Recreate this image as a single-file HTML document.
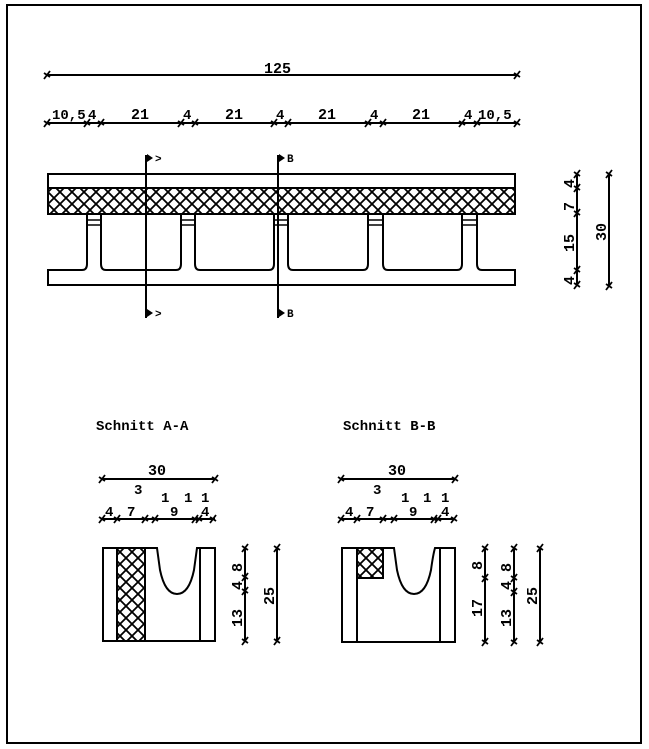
<!DOCTYPE html>
<html><head><meta charset="utf-8"><style>
html,body{margin:0;padding:0;background:#fff;}
svg{display:block;}
text{font-family:"Liberation Mono","DejaVu Sans Mono",monospace;font-weight:bold;fill:#000;}
</style></head><body>
<svg width="649" height="749" viewBox="0 0 649 749" xmlns="http://www.w3.org/2000/svg">
<defs>
<pattern id="h" width="12" height="12" patternUnits="userSpaceOnUse">
<path d="M0 0L12 12M12 0L0 12" stroke="#000" stroke-width="1.8"/>
</pattern>
<g id="t"><path d="M-3 4L3 -4M-3 -2L3 2" stroke="#000" stroke-width="1.8"/></g>
</defs>
<rect x="7" y="5" width="634" height="738" fill="none" stroke="#000" stroke-width="2"/>
<g stroke="#000" stroke-width="2" fill="none">
<line x1="47" y1="75" x2="517" y2="75"/>
<line x1="47" y1="123" x2="517" y2="123"/>
<rect x="48" y="174" width="467" height="40"/>
<rect x="49" y="188" width="465" height="25" fill="url(#h)" stroke="none"/>
<line x1="48" y1="188" x2="515" y2="188"/>
<path d="M48 270H82Q87 270 87 264V214L101 214V264Q101 270 106 270H176Q181 270 181 264V214L195 214V264Q195 270 200 270H269Q274 270 274 264V214L288 214V264Q288 270 293 270H363Q368 270 368 264V214L383 214V264Q383 270 388 270H457Q462 270 462 264V214L477 214V264Q477 270 482 270H515V285H48Z"/>
<g stroke-width="1.5">
<line x1="87" y1="220" x2="101" y2="220"/><line x1="87" y1="225" x2="101" y2="225"/>
<line x1="181" y1="220" x2="195" y2="220"/><line x1="181" y1="225" x2="195" y2="225"/>
<line x1="274" y1="220" x2="288" y2="220"/><line x1="274" y1="225" x2="288" y2="225"/>
<line x1="368" y1="220" x2="383" y2="220"/><line x1="368" y1="225" x2="383" y2="225"/>
<line x1="462" y1="220" x2="477" y2="220"/><line x1="462" y1="225" x2="477" y2="225"/>
</g>
<line x1="146" y1="155" x2="146" y2="318"/>
<line x1="278" y1="155" x2="278" y2="318"/>
<line x1="577" y1="173" x2="577" y2="286"/>
<line x1="609" y1="173" x2="609" y2="287"/>
<line x1="102" y1="479" x2="215" y2="479"/>
<line x1="102" y1="519" x2="215" y2="519"/>
<rect x="117" y="548" width="28" height="93" fill="url(#h)" stroke="none"/>
<path d="M103 548H157Q158 555 160 570Q165 594 177 594Q189 594 194 570Q196 555 197 548H215V641H103Z"/>
<line x1="117" y1="548" x2="117" y2="641"/><line x1="145" y1="548" x2="145" y2="641"/>
<line x1="200" y1="548" x2="200" y2="641"/>
<line x1="245" y1="548" x2="245" y2="641"/>
<line x1="277" y1="548" x2="277" y2="641"/>
<line x1="341" y1="479" x2="455" y2="479"/>
<line x1="341" y1="519" x2="455" y2="519"/>
<rect x="358" y="548" width="25" height="30" fill="url(#h)" stroke="none"/>
<path d="M358 578H383V548"/>
<path d="M342 548H394Q395 555 397 570Q402 594 414 594Q426 594 431 570Q433 555 435 548H455V642H342Z"/>
<line x1="357" y1="548" x2="357" y2="642"/>
<line x1="440" y1="548" x2="440" y2="642"/>
<line x1="485" y1="548" x2="485" y2="642"/>
<line x1="514" y1="548" x2="514" y2="642"/>
<line x1="540" y1="548" x2="540" y2="642"/>
</g>
<g>
<use href="#t" x="47" y="75"/><use href="#t" x="517" y="75"/>
<use href="#t" x="47" y="123"/><use href="#t" x="87" y="123"/><use href="#t" x="101" y="123"/>
<use href="#t" x="181" y="123"/><use href="#t" x="195" y="123"/><use href="#t" x="274" y="123"/>
<use href="#t" x="288" y="123"/><use href="#t" x="368" y="123"/><use href="#t" x="383" y="123"/>
<use href="#t" x="462" y="123"/><use href="#t" x="477" y="123"/><use href="#t" x="517" y="123"/>
<use href="#t" x="577" y="174"/><use href="#t" x="577" y="188"/><use href="#t" x="577" y="213"/>
<use href="#t" x="577" y="270"/><use href="#t" x="577" y="285"/>
<use href="#t" x="609" y="174"/><use href="#t" x="609" y="286"/>
<use href="#t" x="102" y="479"/><use href="#t" x="215" y="479"/>
<use href="#t" x="102" y="519"/><use href="#t" x="117" y="519"/><use href="#t" x="145" y="519"/>
<use href="#t" x="155" y="519"/><use href="#t" x="195" y="519"/><use href="#t" x="199" y="519"/>
<use href="#t" x="213" y="519"/>
<use href="#t" x="245" y="548"/><use href="#t" x="245" y="577"/><use href="#t" x="245" y="591"/><use href="#t" x="245" y="641"/>
<use href="#t" x="277" y="548"/><use href="#t" x="277" y="641"/>
<use href="#t" x="341" y="479"/><use href="#t" x="455" y="479"/>
<use href="#t" x="341" y="519"/><use href="#t" x="357" y="519"/><use href="#t" x="383" y="519"/>
<use href="#t" x="394" y="519"/><use href="#t" x="434" y="519"/><use href="#t" x="438" y="519"/>
<use href="#t" x="454" y="519"/>
<use href="#t" x="485" y="548"/><use href="#t" x="485" y="578"/><use href="#t" x="485" y="642"/>
<use href="#t" x="514" y="548"/><use href="#t" x="514" y="578"/><use href="#t" x="514" y="592"/><use href="#t" x="514" y="642"/>
<use href="#t" x="540" y="548"/><use href="#t" x="540" y="642"/>
</g>
<g fill="#000">
<path d="M147 154L153 158L147 162Z"/><path d="M147 309L153 313L147 317Z"/>
<path d="M279 154L285 158L279 162Z"/><path d="M279 309L285 313L279 317Z"/>
</g>
<g font-size="11">
<text x="155" y="162">&gt;</text><text x="155" y="317">&gt;</text>
<text x="287" y="162">B</text><text x="287" y="317">B</text>
</g>
<g font-size="15">
<text x="264" y="73">125</text>
<text x="52" y="119" font-size="14">10,5</text>
<text x="88" y="119" font-size="14">4</text>
<text x="131" y="119">21</text><text x="183" y="119" font-size="14">4</text>
<text x="225" y="119">21</text><text x="276" y="119" font-size="14">4</text>
<text x="318" y="119">21</text><text x="370" y="119" font-size="14">4</text>
<text x="412" y="119">21</text><text x="464" y="119" font-size="14">4</text>
<text x="478" y="119" font-size="14">10,5</text>
</g>
<g font-size="15">
<text transform="translate(574,188) rotate(-90)">4</text>
<text transform="translate(574,211) rotate(-90)">7</text>
<text transform="translate(574,252) rotate(-90)">15</text>
<text transform="translate(574,285) rotate(-90)">4</text>
<text transform="translate(606,241) rotate(-90)">30</text>
</g>
<g font-size="14">
<text x="96" y="430">Schnitt  A-A</text>
<text x="343" y="430">Schnitt  B-B</text>
<text x="148" y="475" font-size="15">30</text>
<text x="134" y="494">3</text>
<text x="161" y="502">1</text><text x="184" y="502">1</text><text x="201" y="502">1</text>
<text x="105" y="516">4</text><text x="127" y="516">7</text><text x="170" y="516">9</text><text x="201" y="516">4</text>
<text x="388" y="475" font-size="15">30</text>
<text x="373" y="494">3</text>
<text x="401" y="502">1</text><text x="423" y="502">1</text><text x="441" y="502">1</text>
<text x="345" y="516">4</text><text x="366" y="516">7</text><text x="409" y="516">9</text><text x="441" y="516">4</text>
</g>
<g font-size="15">
<text transform="translate(242,572) rotate(-90)">8</text>
<text transform="translate(242,590) rotate(-90)">4</text>
<text transform="translate(242,627) rotate(-90)">13</text>
<text transform="translate(274,605) rotate(-90)">25</text>
<text transform="translate(482,570) rotate(-90)">8</text>
<text transform="translate(482,617) rotate(-90)">17</text>
<text transform="translate(511,572) rotate(-90)">8</text>
<text transform="translate(511,590) rotate(-90)">4</text>
<text transform="translate(511,627) rotate(-90)">13</text>
<text transform="translate(537,605) rotate(-90)">25</text>
</g>
</svg>
</body></html>
